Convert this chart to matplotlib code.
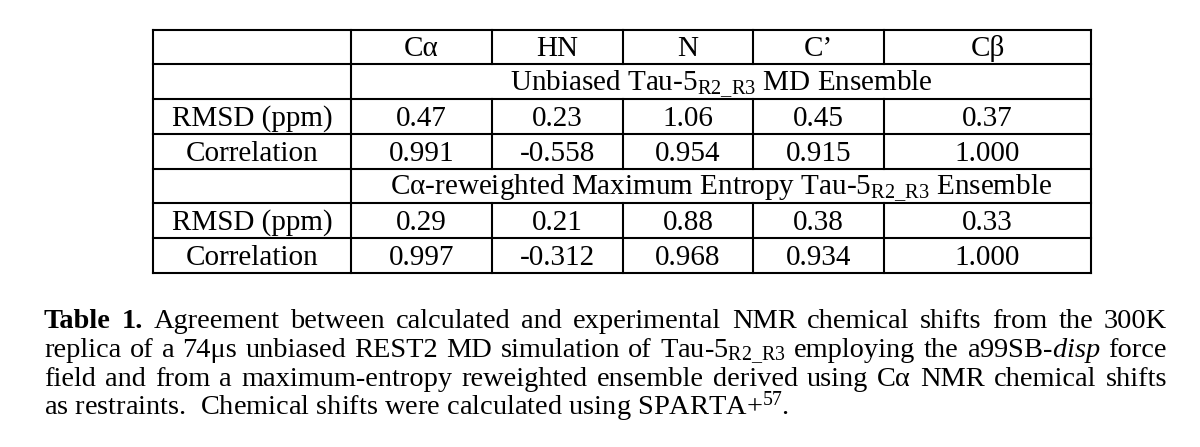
import matplotlib
matplotlib.use("Agg")
import matplotlib.pyplot as plt

# ---------------- data ----------------
columns = ["Cα", "HN", "N", "C’", "Cβ"]
row_labels = ["RMSD (ppm)", "Correlation"]
group_titles = [
    r"Unbiased Tau-5$_{\mathrm{R2\_R3}}$ MD Ensemble",
    r"Cα-reweighted Maximum Entropy Tau-5$_{\mathrm{R2\_R3}}$ Ensemble",
]
unbiased_rmsd = [0.47, 0.23, 1.06, 0.45, 0.37]
unbiased_corr = [0.991, -0.558, 0.954, 0.915, 1.000]
reweighted_rmsd = [0.29, 0.21, 0.88, 0.38, 0.33]
reweighted_corr = [0.997, -0.312, 0.968, 0.934, 1.000]

caption_lines = [
    [("Table", "bold"), ("1.", "bold"), "Agreement", "between", "calculated", "and",
     "experimental", "NMR", "chemical", "shifts", "from", "the", "300K"],
    ["replica", "of", "a", "74μs", "unbiased", "REST2", "MD", "simulation", "of",
     r"Tau-5$_{\mathrm{R2\_R3}}$", "employing", "the", r"a99SB-$\mathit{disp}$", "force"],
    ["field", "and", "from", "a", "maximum-entropy", "reweighted", "ensemble", "derived",
     "using", "Cα", "NMR", "chemical", "shifts"],
]
caption_last = r"as restraints.  Chemical shifts were calculated using SPARTA+$^{57}$."

# ---------------- style / layout ----------------
plt.rcParams["font.family"] = ["Liberation Serif", "DejaVu Serif"]
plt.rcParams["mathtext.fontset"] = "custom"
plt.rcParams["mathtext.rm"] = "Liberation Serif"
plt.rcParams["mathtext.it"] = "Liberation Serif:italic"
plt.rcParams["mathtext.bf"] = "Liberation Serif:bold"

W, H = 1200, 447
fig = plt.figure(figsize=(W / 100, H / 100), dpi=100)
ax = fig.add_axes([0, 0, 1, 1])
ax.set_xlim(0, W)
ax.set_ylim(H, 0)
ax.axis("off")

col_x = [153, 351, 492, 623, 753, 884, 1091]
row_y = [30, 64, 99, 134, 169, 203, 238, 273]
lw = 1.5
TFS = 21    # table font size
CFS = 20.4  # caption font size

# horizontal lines
for y in row_y:
    ax.plot([col_x[0], col_x[-1]], [y, y], color="black", lw=lw, solid_capstyle="projecting")
# outer verticals + label column line
for x in (col_x[0], col_x[1], col_x[-1]):
    ax.plot([x, x], [row_y[0], row_y[-1]], color="black", lw=lw, solid_capstyle="projecting")
# internal column lines, skipping group title rows (rows 1 and 4)
group_rows = [1, 4]
for x in col_x[2:-1]:
    for r in range(len(row_y) - 1):
        if r in group_rows:
            continue
        ax.plot([x, x], [row_y[r], row_y[r + 1]], color="black", lw=lw, solid_capstyle="projecting")

def cell_text(text, c0, c1, r):
    xc = (col_x[c0] + col_x[c1]) / 2
    yb = row_y[r + 1] - 8
    ax.text(xc, yb, text, ha="center", va="baseline", fontsize=TFS, color="black")

# header
for i, c in enumerate(columns):
    cell_text(c, i + 1, i + 2, 0)

blocks = [
    (1, group_titles[0], unbiased_rmsd, unbiased_corr),
    (4, group_titles[1], reweighted_rmsd, reweighted_corr),
]
for gr, title, rmsd, corr in blocks:
    cell_text(title, 1, 6, gr)
    cell_text(row_labels[0], 0, 1, gr + 1)
    cell_text(row_labels[1], 0, 1, gr + 2)
    for i, v in enumerate(rmsd):
        cell_text(f"{v:.2f}", i + 1, i + 2, gr + 1)
    for i, v in enumerate(corr):
        cell_text(f"{v:.3f}", i + 1, i + 2, gr + 2)

# ---------------- caption (justified) ----------------
renderer = fig.canvas.get_renderer()
cap_x0, cap_x1 = 44, 1167
cap_base = [328, 357, 386, 415]

for li, words in enumerate(caption_lines):
    texts = []
    widths = []
    for w in words:
        if isinstance(w, tuple):
            s, weight = w
        else:
            s, weight = w, "normal"
        t = ax.text(0, cap_base[li], s, ha="left", va="baseline", fontsize=CFS,
                    fontweight=weight, color="black")
        bb = t.get_window_extent(renderer)
        texts.append(t)
        widths.append(bb.width)
    gap = (cap_x1 - cap_x0 - sum(widths)) / (len(words) - 1)
    x = cap_x0
    for t, wd in zip(texts, widths):
        t.set_x(x)
        x += wd + gap

ax.text(cap_x0, cap_base[3], caption_last, ha="left", va="baseline", fontsize=CFS, color="black")

fig.savefig("out.png", dpi=100, facecolor="white")
